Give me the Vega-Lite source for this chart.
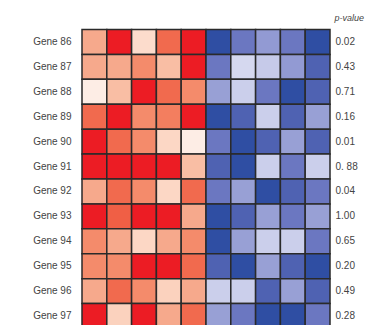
{
  "$schema": "https://vega.github.io/schema/vega-lite/v6.json",
  "autosize": {"type": "none"},
  "padding": {"left": 82, "top": 29.5, "right": 45, "bottom": 0},
  "width": 248,
  "height": 299,
  "background": "white",
  "config": {"view": {"stroke": null}, "font": "Liberation Sans"},
  "datasets": {
    "cells": [
      {"gene":"Gene 86","col":1,"v":2},{"gene":"Gene 86","col":2,"v":4},{"gene":"Gene 86","col":3,"v":1},{"gene":"Gene 86","col":4,"v":3},{"gene":"Gene 86","col":5,"v":4},
      {"gene":"Gene 86","col":6,"v":-4},{"gene":"Gene 86","col":7,"v":-3},{"gene":"Gene 86","col":8,"v":-2.3},{"gene":"Gene 86","col":9,"v":-3},{"gene":"Gene 86","col":10,"v":-4},
      {"gene":"Gene 87","col":1,"v":2},{"gene":"Gene 87","col":2,"v":2},{"gene":"Gene 87","col":3,"v":2.5},{"gene":"Gene 87","col":4,"v":1.6},{"gene":"Gene 87","col":5,"v":4},
      {"gene":"Gene 87","col":6,"v":-3},{"gene":"Gene 87","col":7,"v":-1},{"gene":"Gene 87","col":8,"v":-1.3},{"gene":"Gene 87","col":9,"v":-2.3},{"gene":"Gene 87","col":10,"v":-3.5},
      {"gene":"Gene 88","col":1,"v":0.6},{"gene":"Gene 88","col":2,"v":1.6},{"gene":"Gene 88","col":3,"v":4},{"gene":"Gene 88","col":4,"v":3},{"gene":"Gene 88","col":5,"v":2.5},
      {"gene":"Gene 88","col":6,"v":-2.2},{"gene":"Gene 88","col":7,"v":-1.2},{"gene":"Gene 88","col":8,"v":-3},{"gene":"Gene 88","col":9,"v":-4},{"gene":"Gene 88","col":10,"v":-3.5},
      {"gene":"Gene 89","col":1,"v":3},{"gene":"Gene 89","col":2,"v":4},{"gene":"Gene 89","col":3,"v":2.5},{"gene":"Gene 89","col":4,"v":2.7},{"gene":"Gene 89","col":5,"v":4},
      {"gene":"Gene 89","col":6,"v":-4},{"gene":"Gene 89","col":7,"v":-3.5},{"gene":"Gene 89","col":8,"v":-1.2},{"gene":"Gene 89","col":9,"v":-3.5},{"gene":"Gene 89","col":10,"v":-2.2},
      {"gene":"Gene 90","col":1,"v":4},{"gene":"Gene 90","col":2,"v":3},{"gene":"Gene 90","col":3,"v":2.5},{"gene":"Gene 90","col":4,"v":1.1},{"gene":"Gene 90","col":5,"v":0.6},
      {"gene":"Gene 90","col":6,"v":-3},{"gene":"Gene 90","col":7,"v":-4},{"gene":"Gene 90","col":8,"v":-3.5},{"gene":"Gene 90","col":9,"v":-2.2},{"gene":"Gene 90","col":10,"v":-3.5},
      {"gene":"Gene 91","col":1,"v":4},{"gene":"Gene 91","col":2,"v":4},{"gene":"Gene 91","col":3,"v":4},{"gene":"Gene 91","col":4,"v":4},{"gene":"Gene 91","col":5,"v":1.6},
      {"gene":"Gene 91","col":6,"v":-3.5},{"gene":"Gene 91","col":7,"v":-4},{"gene":"Gene 91","col":8,"v":-1.2},{"gene":"Gene 91","col":9,"v":-3},{"gene":"Gene 91","col":10,"v":-1.2},
      {"gene":"Gene 92","col":1,"v":2},{"gene":"Gene 92","col":2,"v":3},{"gene":"Gene 92","col":3,"v":2.5},{"gene":"Gene 92","col":4,"v":1.1},{"gene":"Gene 92","col":5,"v":3},
      {"gene":"Gene 92","col":6,"v":-3},{"gene":"Gene 92","col":7,"v":-2.2},{"gene":"Gene 92","col":8,"v":-4},{"gene":"Gene 92","col":9,"v":-3.5},{"gene":"Gene 92","col":10,"v":-3},
      {"gene":"Gene 93","col":1,"v":4},{"gene":"Gene 93","col":2,"v":3.2},{"gene":"Gene 93","col":3,"v":4},{"gene":"Gene 93","col":4,"v":4},{"gene":"Gene 93","col":5,"v":2},
      {"gene":"Gene 93","col":6,"v":-4},{"gene":"Gene 93","col":7,"v":-3.5},{"gene":"Gene 93","col":8,"v":-2.2},{"gene":"Gene 93","col":9,"v":-3},{"gene":"Gene 93","col":10,"v":-2.2},
      {"gene":"Gene 94","col":1,"v":2.5},{"gene":"Gene 94","col":2,"v":2},{"gene":"Gene 94","col":3,"v":1.1},{"gene":"Gene 94","col":4,"v":2},{"gene":"Gene 94","col":5,"v":2.5},
      {"gene":"Gene 94","col":6,"v":-4},{"gene":"Gene 94","col":7,"v":-2.2},{"gene":"Gene 94","col":8,"v":-1.2},{"gene":"Gene 94","col":9,"v":-1.2},{"gene":"Gene 94","col":10,"v":-3},
      {"gene":"Gene 95","col":1,"v":2.5},{"gene":"Gene 95","col":2,"v":2.5},{"gene":"Gene 95","col":3,"v":4},{"gene":"Gene 95","col":4,"v":4},{"gene":"Gene 95","col":5,"v":3},
      {"gene":"Gene 95","col":6,"v":-3.5},{"gene":"Gene 95","col":7,"v":-4},{"gene":"Gene 95","col":8,"v":-2.2},{"gene":"Gene 95","col":9,"v":-3.5},{"gene":"Gene 95","col":10,"v":-4},
      {"gene":"Gene 96","col":1,"v":2},{"gene":"Gene 96","col":2,"v":3},{"gene":"Gene 96","col":3,"v":2.5},{"gene":"Gene 96","col":4,"v":1.2},{"gene":"Gene 96","col":5,"v":2},
      {"gene":"Gene 96","col":6,"v":-1.2},{"gene":"Gene 96","col":7,"v":-1.2},{"gene":"Gene 96","col":8,"v":-3.5},{"gene":"Gene 96","col":9,"v":-2.2},{"gene":"Gene 96","col":10,"v":-3.5},
      {"gene":"Gene 97","col":1,"v":4},{"gene":"Gene 97","col":2,"v":1.2},{"gene":"Gene 97","col":3,"v":4},{"gene":"Gene 97","col":4,"v":2},{"gene":"Gene 97","col":5,"v":3},
      {"gene":"Gene 97","col":6,"v":-2.2},{"gene":"Gene 97","col":7,"v":-3},{"gene":"Gene 97","col":8,"v":-4},{"gene":"Gene 97","col":9,"v":-4},{"gene":"Gene 97","col":10,"v":-3}
    ],
    "pv": [
      {"gene":"Gene 86","p":"0.02"},{"gene":"Gene 87","p":"0.43"},{"gene":"Gene 88","p":"0.71"},{"gene":"Gene 89","p":"0.16"},
      {"gene":"Gene 90","p":"0.01"},{"gene":"Gene 91","p":"0. 88"},{"gene":"Gene 92","p":"0.04"},{"gene":"Gene 93","p":"1.00"},
      {"gene":"Gene 94","p":"0.65"},{"gene":"Gene 95","p":"0.20"},{"gene":"Gene 96","p":"0.49"},{"gene":"Gene 97","p":"0.28"}
    ]
  },
  "layer": [
    {
      "data": {"name": "cells"},
      "mark": {"type": "rect", "stroke": "#2a2a2a", "strokeWidth": 1.5},
      "encoding": {
        "x": {"field": "col", "type": "ordinal", "axis": null, "scale": {"paddingInner": 0, "paddingOuter": 0}},
        "y": {"field": "gene", "type": "ordinal", "sort": null, "scale": {"paddingInner": 0, "paddingOuter": 0},
          "axis": {"title": null, "ticks": false, "domain": false, "labelPadding": 11, "labelFontSize": 10, "labelColor": "#444"}},
        "color": {"field": "v", "type": "quantitative", "legend": null,
          "scale": {"domain": [-4, -3, -2, -1, 0.6, 1, 2, 3, 4],
                    "range": ["#2f4ea3", "#6b77c1", "#a3aada", "#d5d8ef", "#fdede5", "#fcdccc", "#f6a98c", "#f16a4e", "#ec1c24"]}}
      }
    },
    {
      "data": {"name": "pv"},
      "mark": {"type": "rect", "opacity": 0},
      "encoding": {
        "y": {"field": "p", "type": "ordinal", "sort": null, "scale": {"paddingInner": 0, "paddingOuter": 0},
          "axis": {"orient": "right", "ticks": false, "domain": false, "labelPadding": 5, "labelFontSize": 10, "labelColor": "#444",
            "title": "p-value", "titleAngle": 0, "titleFontSize": 9, "titleFontWeight": "normal", "titleFontStyle": "italic", "titleColor": "#444",
            "titleAlign": "left", "titleBaseline": "alphabetic", "titleX": 4, "titleY": -9}}
      }
    }
  ],
  "resolve": {"scale": {"y": "independent", "color": "shared"}}
}
